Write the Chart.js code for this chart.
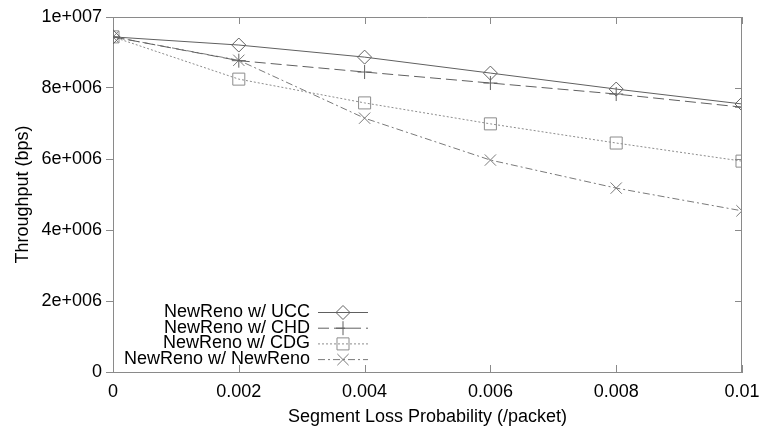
<!DOCTYPE html>
<html>
<head>
<meta charset="utf-8">
<script src="https://cdn.jsdelivr.net/npm/chart.js@4"></script>
<style>
  html, body { margin: 0; padding: 0; background: #fff; }
  #wrap { width: 762px; height: 428px; }
</style>
</head>
<body>
<div id="wrap"><canvas id="chart" width="762" height="428"></canvas></div>
<script>
// Data
const lossProb = [0, 0.002, 0.004, 0.006, 0.008, 0.01];
const seriesNames = ['NewReno w/ UCC', 'NewReno w/ CHD', 'NewReno w/ CDG', 'NewReno w/ NewReno'];
const ucc = [9.44e6, 9.21e6, 8.87e6, 8.42e6, 7.97e6, 7.55e6];
const chd = [9.44e6, 8.77e6, 8.45e6, 8.14e6, 7.83e6, 7.46e6];
const cdg = [9.44e6, 8.25e6, 7.58e6, 6.99e6, 6.45e6, 5.94e6];
const newreno = [9.44e6, 8.78e6, 7.15e6, 5.97e6, 5.18e6, 4.54e6];
const xTicks = [0, 0.002, 0.004, 0.006, 0.008, 0.01];
const xTickLabels = ['0', '0.002', '0.004', '0.006', '0.008', '0.01'];
const yTicks = [0, 2e6, 4e6, 6e6, 8e6, 1e7];
const yTickLabels = ['0', '2e+006', '4e+006', '6e+006', '8e+006', '1e+007'];

const FONT = 'Liberation Sans, Arial, sans-serif';
const frameColor = '#8a8a8a';

function pts(values) {
  return values.map((v, i) => ({ x: lossProb[i], y: v }));
}

const styles = [
  { color: '#606060', dash: [], point: 'rectRot', r: 7 },
  { color: '#606060', dash: [11, 5], point: 'cross', r: 7 },
  { color: '#8c8c8c', dash: [2, 2], point: 'rect', r: 8.5 },
  { color: '#7a7a7a', dash: [7, 3, 2, 3], point: 'crossRot', r: 8 }
];
const allSeries = [ucc, chd, cdg, newreno];

const datasets = allSeries.map((vals, i) => ({
  label: seriesNames[i],
  data: pts(vals),
  borderColor: styles[i].color,
  borderWidth: 1,
  borderDash: styles[i].dash,
  pointStyle: styles[i].point,
  pointRadius: styles[i].r,
  pointBorderColor: styles[i].color,
  pointBackgroundColor: 'rgba(0,0,0,0)',
  pointBorderWidth: 1,
  fill: false,
  tension: 0
}));

// frame, mirror ticks and the gnuplot-like legend
const framePlugin = {
  id: 'frame',
  afterDraw(chart) {
    const { ctx, chartArea: a, scales } = chart;
    ctx.save();
    ctx.strokeStyle = frameColor;
    ctx.lineWidth = 1;
    ctx.beginPath();
    ctx.moveTo(a.left, a.top + 0.5); ctx.lineTo(a.right, a.top + 0.5);
    ctx.moveTo(a.right - 0.5, a.top); ctx.lineTo(a.right - 0.5, a.bottom);
    yTicks.forEach(v => {
      const y = Math.round(scales.y.getPixelForValue(v)) + 0.5;
      ctx.moveTo(a.right, y); ctx.lineTo(a.right - 7, y);
    });
    xTicks.forEach(v => {
      const x = Math.round(scales.x.getPixelForValue(v)) + 0.5;
      ctx.moveTo(x, a.bottom); ctx.lineTo(x, a.bottom - 7);
      ctx.moveTo(x, a.top); ctx.lineTo(x, a.top + 7);
    });
    ctx.stroke();

    // legend
    ctx.font = '18px ' + FONT;
    ctx.textAlign = 'right';
    ctx.textBaseline = 'middle';
    chart.data.datasets.forEach((ds, i) => {
      const y = a.bottom - 60 + i * 15.7;
      const textRight = a.left + 197;
      ctx.fillStyle = '#000';
      ctx.fillText(ds.label, textRight, y);
      ctx.strokeStyle = ds.borderColor;
      ctx.setLineDash(ds.borderDash);
      ctx.beginPath();
      ctx.moveTo(textRight + 8, y + 0.5);
      ctx.lineTo(textRight + 58, y + 0.5);
      ctx.stroke();
      ctx.setLineDash([]);
      ctx.fillStyle = 'rgba(0,0,0,0)';
      ctx.strokeStyle = ds.pointBorderColor;
      Chart.helpers.drawPoint(ctx, {
        pointStyle: ds.pointStyle, radius: ds.pointRadius, borderWidth: 1, rotation: 0
      }, textRight + 33, y + 0.5);
    });
    ctx.restore();
  }
};

new Chart(document.getElementById('chart'), {
  type: 'line',
  data: { datasets },
  options: {
    responsive: false,
    animation: false,
    layout: { padding: { top: 17, right: 20, left: 0, bottom: 0 } },
    plugins: { legend: { display: false }, tooltip: { enabled: false } },
    scales: {
      x: {
        type: 'linear',
        min: 0,
        max: 0.01,
        afterBuildTicks: s => { s.ticks = xTicks.map(v => ({ value: v })); },
        afterFit: s => { s.height = 56; s.paddingLeft = 0; s.paddingRight = 0; },
        border: { color: frameColor, width: 1 },
        grid: { display: true, drawOnChartArea: false, drawTicks: false },
        ticks: {
          color: '#000',
          font: { family: FONT, size: 18 },
          padding: 9,
          maxRotation: 0,
          autoSkip: false,
          callback: (v, i) => xTickLabels[i]
        },
        title: {
          display: true,
          text: 'Segment Loss Probability (/packet)',
          color: '#000',
          font: { family: FONT, size: 18 },
          padding: { top: 0, bottom: 0 }
        }
      },
      y: {
        min: 0,
        max: 1e7,
        afterBuildTicks: s => { s.ticks = yTicks.map(v => ({ value: v })); },
        afterFit: s => { s.width = 113; s.paddingTop = 0; s.paddingBottom = 0; },
        border: { color: frameColor, width: 1 },
        grid: { display: true, drawOnChartArea: false, drawTicks: true, tickLength: 7, color: frameColor },
        ticks: {
          color: '#000',
          font: { family: FONT, size: 18 },
          padding: 4,
          autoSkip: false,
          callback: (v, i) => yTickLabels[i]
        },
        title: {
          display: true,
          text: 'Throughput (bps)',
          color: '#000',
          font: { family: FONT, size: 18 },
          padding: { top: 12, bottom: 0 }
        }
      }
    }
  },
  plugins: [framePlugin]
});
</script>
</body>
</html>
